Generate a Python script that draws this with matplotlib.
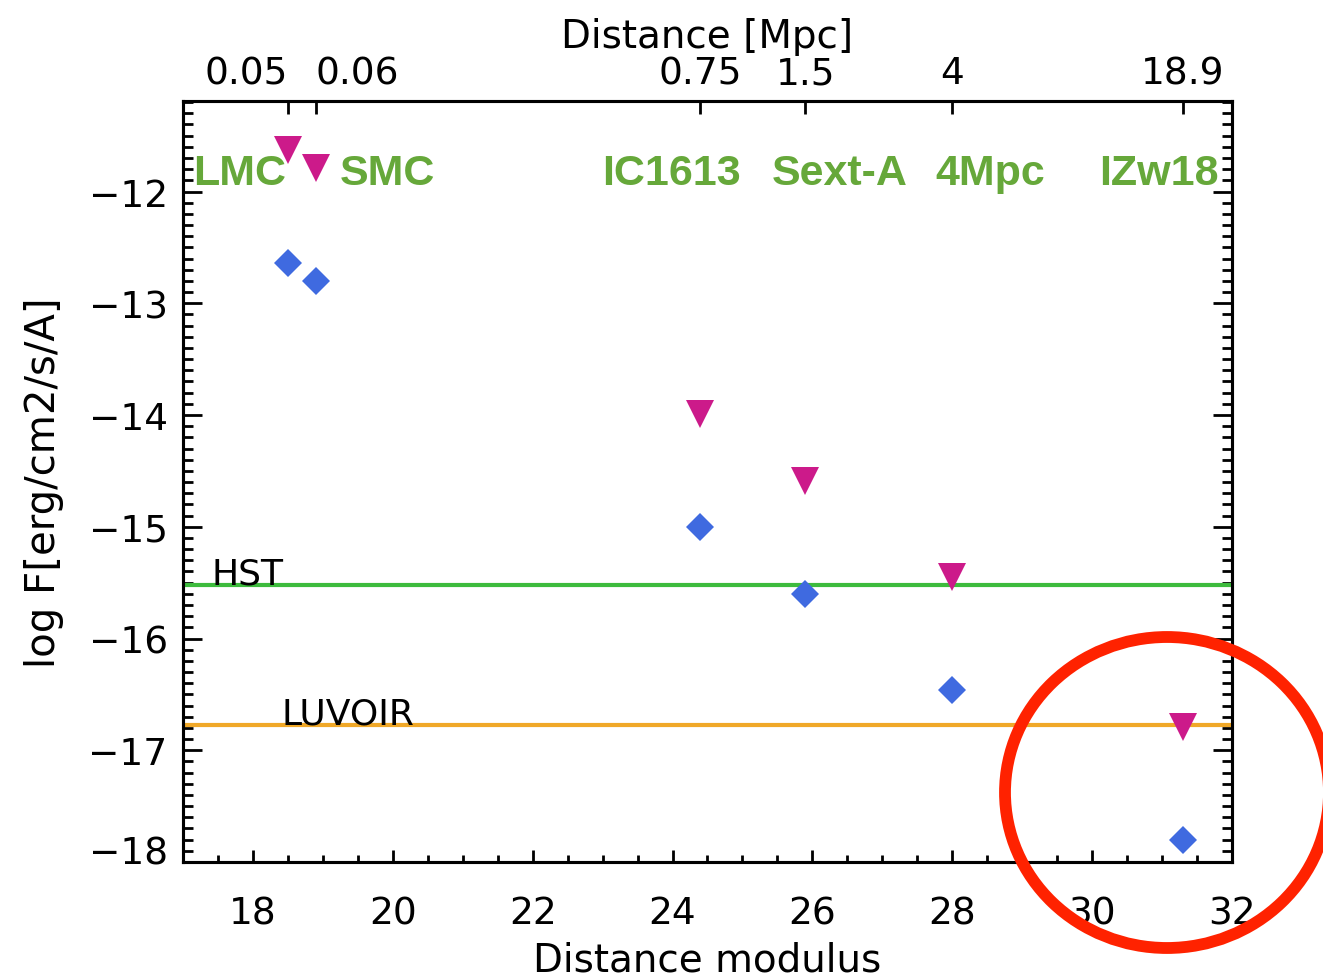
import numpy as np
import matplotlib.pyplot as plt
from matplotlib.patches import Ellipse
from matplotlib.ticker import MultipleLocator, NullLocator
from matplotlib.transforms import ScaledTranslation

# galaxies, distance modulus and the two flux estimates
galaxies = ['LMC', 'SMC', 'IC1613', 'Sext-A', '4Mpc', 'IZw18']
dist_mod = [18.5, 18.9, 24.4, 25.9, 28.0, 31.3]
dist_mpc = ['0.05', '0.06', '0.75', '1.5', '4', '18.9']
flux_tri = [-11.63, -11.79, -13.99, -14.59, -15.45, -16.79]
flux_dia = [-12.64, -12.80, -15.00, -15.60, -16.46, -17.80]

# where the green galaxy names sit (distance modulus units)
label_x = [17.81, 19.93, 23.99, 26.39, 28.54, 30.96]
label_y = -11.93

hst_limit = -15.52
luvoir_limit = -16.77

plt.rcParams['font.family'] = 'DejaVu Sans'

fig = plt.figure(figsize=(13.23, 9.79), dpi=100)
ax = fig.add_axes([0.1383, 0.1185, 0.7929, 0.7773])

ax.axhline(hst_limit, color='#3dbb3d', lw=3, zorder=2)
ax.axhline(luvoir_limit, color='#f0a828', lw=3, zorder=2)
ax.text(17.41, hst_limit + 0.01, 'HST', fontsize=26, va='baseline', ha='left')
ax.text(18.41, luvoir_limit + 0.01, 'LUVOIR', fontsize=26, va='baseline', ha='left')

ax.plot(dist_mod, flux_tri, linestyle='none', marker='v', ms=20, mew=0,
        color='#cc1a8a', zorder=4)
ax.plot(dist_mod, flux_dia, linestyle='none', marker='D', ms=14, mew=0,
        color='#3f6ae0', zorder=4)

for name, x in zip(galaxies, label_x):
    ax.text(x, label_y, name, fontsize=31, fontweight='bold',
            family='Liberation Sans', color='#66a83a', ha='center',
            va='baseline', zorder=5)

ax.set_xlim(17, 32)
ax.set_ylim(-18, -11.19)
ax.xaxis.set_major_locator(MultipleLocator(2))
ax.xaxis.set_minor_locator(MultipleLocator(0.5))
ax.yaxis.set_major_locator(MultipleLocator(1))
ax.yaxis.set_minor_locator(MultipleLocator(0.1))

ax.tick_params(which='both', direction='in', top=False, right=True, width=2,
               labelsize=27)
ax.tick_params(axis='x', which='major', length=9, pad=24)
ax.tick_params(axis='x', which='minor', length=5)
ax.tick_params(axis='y', which='major', length=14, pad=11)
ax.tick_params(axis='y', which='minor', length=7)
for sp in ax.spines.values():
    sp.set_linewidth(2.2)

ax.set_xlabel('Distance modulus', fontsize=28)
ax.xaxis.set_label_coords(0.5, -0.103)
ax.set_ylabel('log F[erg/cm2/s/A]', fontsize=29)
ax.yaxis.set_label_coords(-0.113, 0.5)

# top axis: distance in Mpc at each galaxy
ax2 = ax.twiny()
ax2.set_xlim(ax.get_xlim())
ax2.set_xticks(dist_mod)
ax2.set_xticklabels(dist_mpc)
ax2.xaxis.set_minor_locator(NullLocator())
ax2.tick_params(direction='in', length=9, width=2, pad=7, labelsize=27)
labels = ax2.get_xticklabels()
labels[0].set_ha('right')
labels[1].set_ha('left')
ax2.set_xlabel('Distance [Mpc]', fontsize=28)
ax2.xaxis.set_label_coords(0.5, 1.071)
for sp in ax2.spines.values():
    sp.set_linewidth(2.2)

# red highlight circle round IZw18
circ = Ellipse((1167 / 1323, 1 - 793.5 / 979), 2 * 162 / 1323, 2 * 155.5 / 979,
               transform=fig.transFigure, fill=False, ec='#ff2200', lw=8.5,
               zorder=10)
fig.add_artist(circ)

# the -18 label sits a little above the corner, as in the original
fig.canvas.draw()
for tick in ax.yaxis.get_major_ticks():
    if abs(tick.get_loc() + 18) < 1e-6:
        lab = tick.label1
        lab.set_transform(lab.get_transform() +
                          ScaledTranslation(0, 0.12, fig.dpi_scale_trans))

fig.savefig('out.png', dpi=100)
